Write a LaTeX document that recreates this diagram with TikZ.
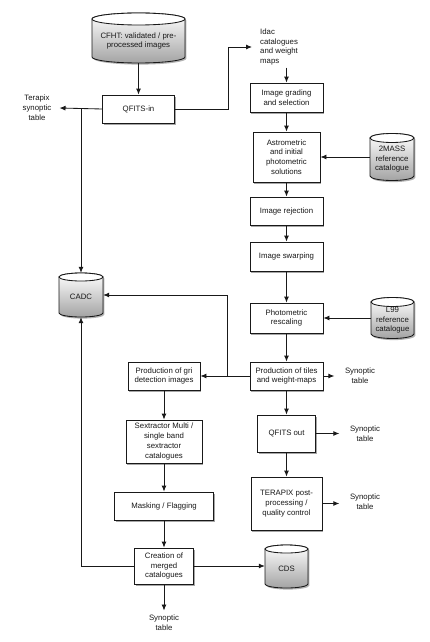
\documentclass[tikz,border=0pt]{standalone}
\usepackage{fontspec}
\setmainfont{Liberation Sans}
\usetikzlibrary{arrows.meta,shadows,calc}
\tikzset{
  box/.style={draw=black!90, line width=0.85pt, fill=white, align=center, inner sep=1pt,
    drop shadow={shadow xshift=1.4pt, shadow yshift=-1.6pt, opacity=0.35, fill=black}},
  arr/.style={draw=black!90, line width=0.85pt, -{Latex[length=6pt,width=5pt]}},
  lnk/.style={draw=black!90, line width=0.85pt},
  lbl/.style={align=center, inner sep=0pt, text=black!90},
}
\newcommand\bx[6]{\node[box, minimum width=#4pt, minimum height=#5pt] (#1) at (#2,-#3) {#6};}
\newcommand\mycyl[7]{%
  \pgfmathsetmacro\myL{#2-#4/2}\pgfmathsetmacro\myR{#2+#4/2}%
  \pgfmathsetmacro\myT{-#3+#5/2-#6}\pgfmathsetmacro\myB{-#3-#5/2+#6}%
  \pgfmathsetmacro\myA{#4/2}%
  \begin{scope}[shift={(1.4,-1.6)}]
    \fill[black, opacity=0.3] (\myL,\myT) -- (\myL,\myB) arc[start angle=180,end angle=360,x radius=\myA,y radius=#6] -- (\myR,\myT) arc[start angle=0,end angle=180,x radius=\myA,y radius=#6] -- cycle;
  \end{scope}
  \shade[top color=white, bottom color=black!36] (\myL,\myT) -- (\myL,\myB) arc[start angle=180,end angle=360,x radius=\myA,y radius=#6] -- (\myR,\myT) arc[start angle=0,end angle=180,x radius=\myA,y radius=#6] -- cycle;
  \draw[lnk] (\myL,\myT) -- (\myL,\myB) arc[start angle=180,end angle=360,x radius=\myA,y radius=#6] -- (\myR,\myT) arc[start angle=0,end angle=180,x radius=\myA,y radius=#6] -- cycle;
  \draw[lnk, fill=white] (#2,\myT) ellipse[x radius=\myA, y radius=#6];
  \node[lbl] at (#2,{-#3-#6/2}) {#7};
  \path (#2,-#3) node[minimum width=#4pt, minimum height=#5pt, inner sep=0pt] (#1) {};
}
\begin{document}
\begin{tikzpicture}[x=1pt,y=1pt, every node/.style={font=\fontsize{7.8}{9.8}\selectfont, text=black!90}]
\useasboundingbox (0,0) rectangle (430,-642);
\fill[white] (0,0) rectangle (430,-642);

% cylinders
\mycyl{cfht}{138.5}{38}{93}{50}{6}{CFHT: validated / pre-\\processed images}
\mycyl{mass}{392}{157}{44}{47}{4.5}{2MASS\\reference\\catalogue}
\mycyl{lnn}{392.5}{318}{43}{41}{4.5}{L99\\reference\\catalogue}
\mycyl{cadc}{81}{295}{44}{44}{4}{CADC}
\mycyl{cds}{286.5}{566.5}{43}{43}{4}{CDS}

% boxes
\bx{qin}{138.5}{109}{72}{28}{QFITS-in}
\bx{grad}{286.5}{97.5}{73}{29}{Image grading\\and selection}
\bx{astro}{286.5}{157}{67}{50}{Astrometric\\and initial\\photometric\\solutions}
\bx{rej}{286.5}{211}{73}{28}{Image rejection}
\bx{swarp}{286.5}{256.5}{73}{29}{Image swarping}
\bx{photo}{286.5}{318}{73}{30}{Photometric\\rescaling}
\bx{tiles}{286.5}{376}{73}{28}{Production of tiles\\and weight-maps}
\bx{gri}{164}{376}{72}{28}{Production of gri\\detection images}
\bx{qout}{286.5}{433.5}{58}{37}{QFITS out}
\bx{tpx}{286.5}{503.5}{71}{53}{TERAPIX post-\\processing /\\quality control}
\bx{sex}{164}{441.5}{76}{43}{Sextractor Multi /\\single band\\sextractor\\catalogues}
\bx{mask}{164}{506}{99}{28}{Masking / Flagging}
\bx{cre}{164}{566}{59}{36}{Creation of\\merged\\catalogues}

% labels
\node[lbl, inner xsep=8pt] (tera) at (37,-108) {Terapix\\synoptic\\table};
\node[lbl, align=left, anchor=west, inner xsep=8pt, inner ysep=2pt] (idac) at (252,-47) {Idac\\catalogues\\and weight\\maps};
\node[lbl, inner xsep=10.5pt] (syn1) at (360,-376) {Synoptic\\table};
\node[lbl, inner xsep=10.5pt] (syn2) at (365,-433.5) {Synoptic\\table};
\node[lbl, inner xsep=10.5pt] (syn3) at (365,-502) {Synoptic\\table};
\node[lbl, inner ysep=4pt] (syn4) at (164,-622.5) {Synoptic\\table};

% connectors
\draw[arr] (cfht.south) -- (qin.north);
\draw[arr] (qin.west) -- (tera.east);
\draw[arr] (qin.west -| cadc.north) -- (cadc.north);
\draw[arr] (qin.east) -- ++(53,0) |- (idac.west);
\draw[arr] (idac.south -| grad.north) -- (grad.north);
\draw[arr] (grad.south) -- (astro.north);
\draw[arr] (mass.west) -- (mass.west -| astro.east);
\draw[arr] (astro.south) -- (rej.north);
\draw[arr] (rej.south) -- (swarp.north);
\draw[arr] (swarp.south) -- (photo.north);
\draw[arr] (lnn.west) -- (lnn.west -| photo.east);
\draw[arr] (photo.south) -- (tiles.north);
\draw[arr] (tiles.east) -- (syn1.west);
\draw[arr] (tiles.west) -- (gri.east);
\draw[arr] (tiles.west) ++(-22,0) |- (cadc.east);
\draw[arr] (tiles.south) -- (qout.north);
\draw[arr] (qout.east) -- (syn2.west);
\draw[arr] (qout.south) -- (tpx.north);
\draw[arr] (tpx.east) -- (tpx.east -| syn3.west);
\draw[arr] (gri.south) -- (sex.north);
\draw[arr] (sex.south) -- (mask.north);
\draw[arr] (mask.south) -- (cre.north);
\draw[arr] (cre.west) -| (cadc.south);
\draw[arr] (cre.east) -- (cre.east -| cds.west);
\draw[arr] (cre.south) -- (syn4.north);
\end{tikzpicture}
\end{document}
